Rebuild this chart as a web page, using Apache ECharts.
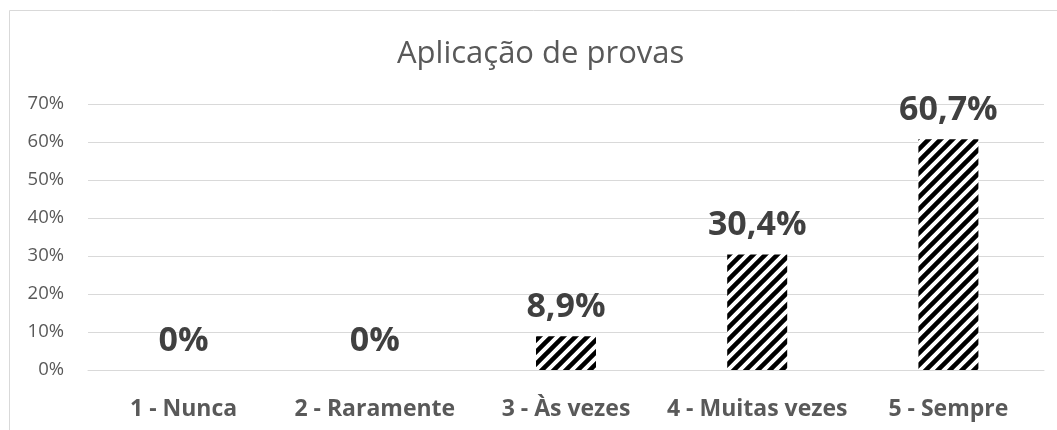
<!DOCTYPE html>
<html>
<head>
<meta charset="utf-8">
<script src="https://cdn.jsdelivr.net/npm/echarts@6/dist/echarts.min.js"></script>
<style>
  html, body { margin: 0; padding: 0; background: #fff; }
  #chart { width: 1057px; height: 430px; }
</style>
</head>
<body>
<div id="chart"></div>
<script>
// dados do gráfico
const categorias = ['1 - Nunca', '2 - Raramente', '3 - Às vezes', '4 - Muitas vezes', '5 - Sempre'];
const valores = [0, 0, 8.9, 30.4, 60.7];
const rotulos = ['0%', '0%', '8,9%', '30,4%', '60,7%'];
const ticksY = [0, 10, 20, 30, 40, 50, 60, 70];

// padrão hachurado diagonal
function hachura() {
    const c = document.createElement('canvas');
    c.width = 12;
    c.height = 12;
    const ctx = c.getContext('2d');
    ctx.fillStyle = '#fff';
    ctx.fillRect(0, 0, 12, 12);
    ctx.strokeStyle = '#000';
    ctx.lineWidth = 4.5;
    ctx.beginPath();
    ctx.moveTo(-3, 15); ctx.lineTo(15, -3);
    ctx.moveTo(-9, 9); ctx.lineTo(9, -9);
    ctx.moveTo(3, 21); ctx.lineTo(21, 3);
    ctx.stroke();
    return c;
}

const chart = echarts.init(document.getElementById('chart'));
const fonte = '"Open Sans", sans-serif';

chart.setOption({
    animation: false,
    graphic: [{
        type: 'rect',
        shape: { x: 9.5, y: 10.5, width: 1100, height: 500 },
        style: { fill: 'none', stroke: '#d9d9d9', lineWidth: 1 },
        silent: true
    }],
    title: {
        text: 'Aplicação de provas',
        left: 392,
        top: 34,
        textStyle: { fontFamily: fonte, fontSize: 31, fontWeight: 'normal', color: '#595959' }
    },
    grid: { left: 88, right: 13, top: 104, bottom: 60 },
    xAxis: {
        type: 'category',
        data: categorias,
        axisTick: { show: false },
        axisLine: { lineStyle: { color: '#d9d9d9' } },
        axisLabel: {
            interval: 0,
            fontFamily: fonte, fontSize: 23, fontWeight: 'bold', color: '#595959', margin: 28
        }
    },
    yAxis: {
        type: 'value',
        min: ticksY[0],
        max: ticksY[ticksY.length - 1],
        interval: 10,
        axisLabel: {
            formatter: v => v + '%',
            fontFamily: fonte, fontSize: 18.5, color: '#595959', margin: 24
        },
        splitLine: { lineStyle: { color: '#d9d9d9' } }
    },
    series: [{
        type: 'bar',
        data: valores,
        barWidth: 60,
        itemStyle: { color: { image: hachura(), repeat: 'repeat' } },
        label: {
            show: true,
            position: 'top',
            distance: 12,
            formatter: p => rotulos[p.dataIndex],
            fontFamily: fonte, fontSize: 34, fontWeight: 'bold', color: '#404040'
        }
    }]
});
</script>
</body>
</html>
